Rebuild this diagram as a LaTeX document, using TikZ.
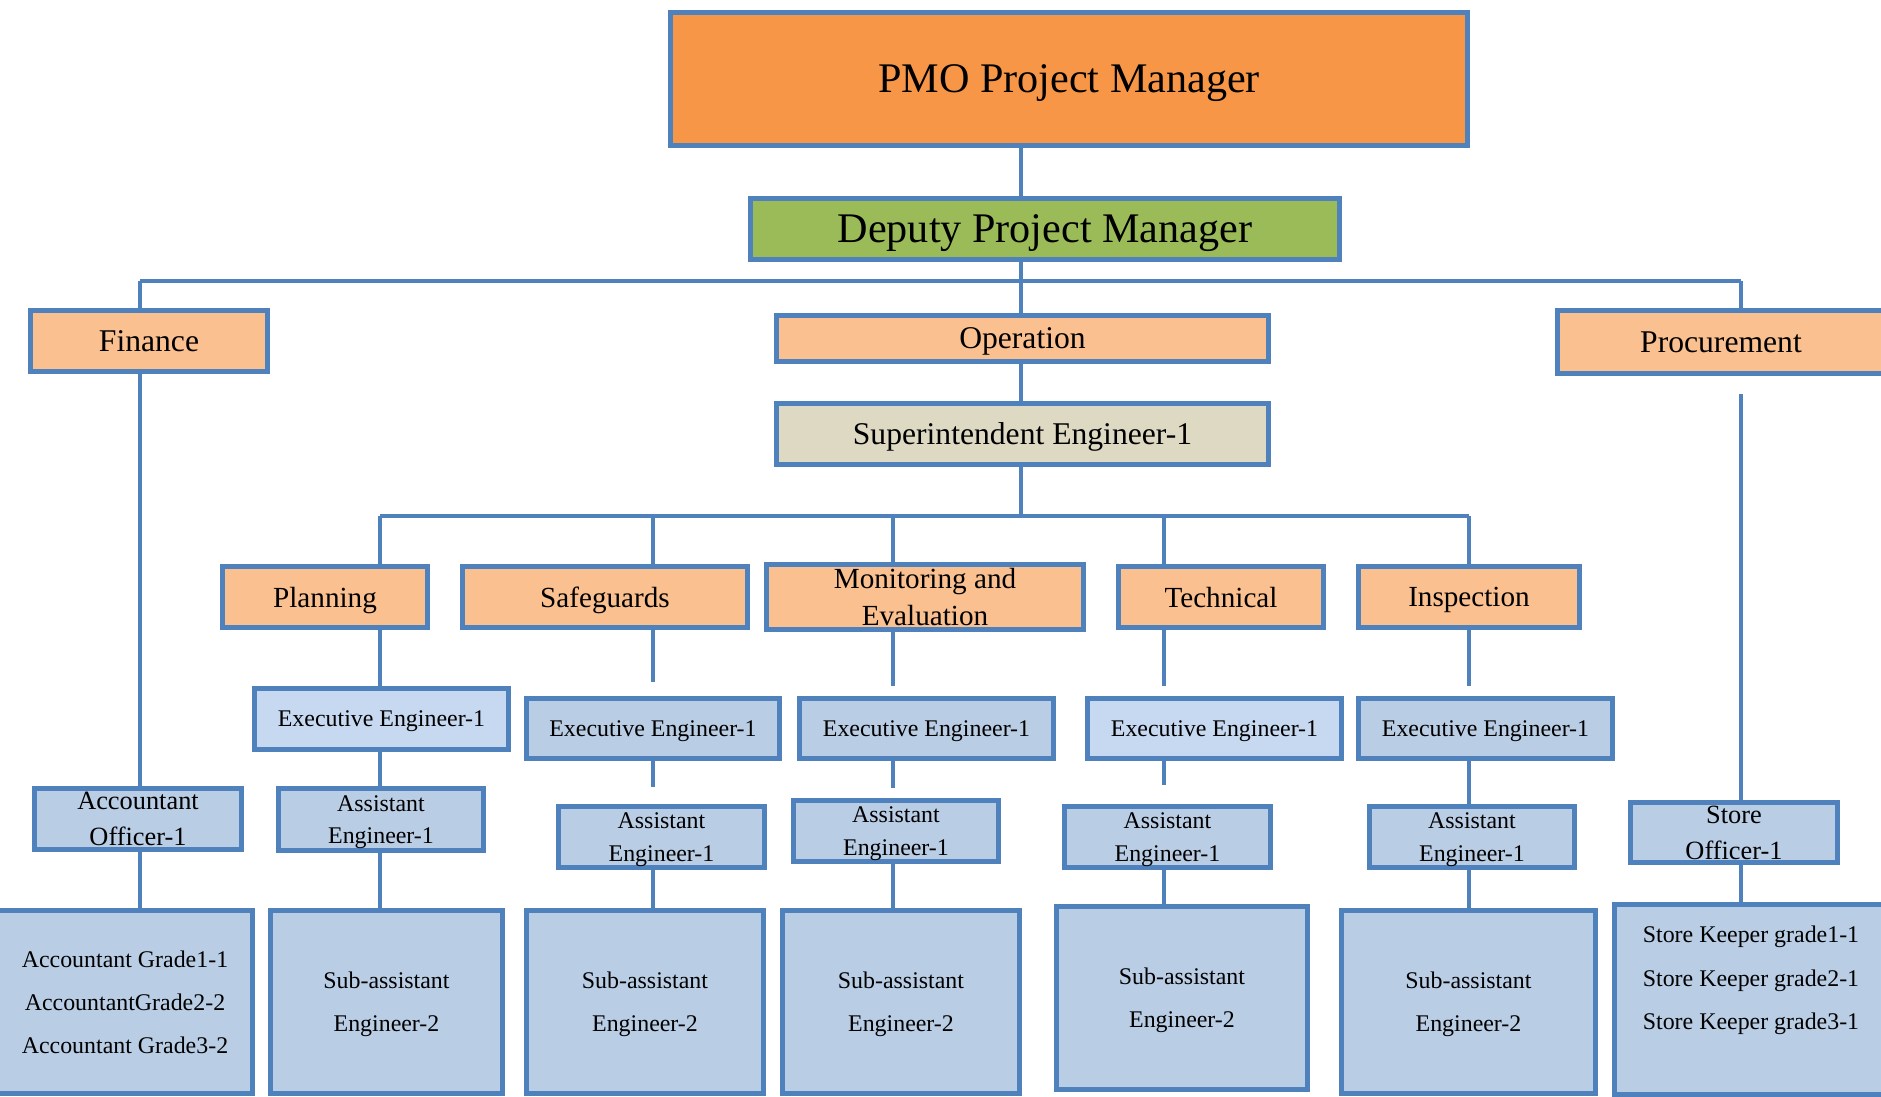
\documentclass[tikz,border=0pt]{standalone}
\usepackage{fontspec}
\setmainfont{Liberation Serif}
\definecolor{frame}{HTML}{4F81BD}
\definecolor{pmofill}{HTML}{F79646}
\definecolor{depfill}{HTML}{9BBB59}
\definecolor{deptfill}{HTML}{FAC090}
\definecolor{supfill}{HTML}{DDD9C3}
\definecolor{staff}{HTML}{B9CDE5}
\definecolor{stafflight}{HTML}{C6D9F1}
\begin{document}
\begin{tikzpicture}
[
    box/.style={draw=frame, line width=1.5pt, inner sep=1pt, align=center, text depth=0pt},
    head/.style={box, fill=pmofill, font=\fontsize{12}{14}\selectfont},
    deputy/.style={box, fill=depfill, font=\fontsize{12}{14}\selectfont},
    dept/.style={box, fill=deptfill, font=\fontsize{9}{11}\selectfont},
    unit/.style={box, fill=deptfill, font=\fontsize{8.3}{10.6}\selectfont},
    super/.style={box, fill=supfill, font=\fontsize{9}{11}\selectfont},
    exe/.style={box, fill=staff, font=\fontsize{6.8}{9.2}\selectfont},
    officer/.style={box, fill=staff, font=\fontsize{7.5}{10.2}\selectfont},
    crew/.style={box, fill=staff, font=\fontsize{6.8}{12.3}\selectfont},
    link/.style={draw=frame, line width=1pt},
    bar/.style={draw=frame, line width=1.4pt},
]
\useasboundingbox (0,0) rectangle (18.81,-10.97);

\node[head, minimum width=7.97cm, minimum height=1.33cm] (pmo) at (10.69,-0.79) {PMO Project Manager};
\node[deputy, minimum width=5.89cm, minimum height=0.61cm] (dep) at (10.45,-2.29) {Deputy Project Manager};

\node[dept, minimum width=2.37cm, minimum height=0.61cm] (fin) at (1.49,-3.41) {Finance};
\node[dept, minimum width=4.92cm, minimum height=0.46cm] (op) at (10.225,-3.385) {Operation};
\node[dept, minimum width=3.27cm, minimum height=0.63cm] (proc) at (17.21,-3.42) {Procurement};
\node[super, minimum width=4.92cm, minimum height=0.61cm] (sup) at (10.225,-4.34) {Superintendent Engineer-1};

\node[unit, minimum width=2.05cm, minimum height=0.61cm] (plan) at (3.25,-5.97) {Planning};
\node[unit, minimum width=2.85cm, minimum height=0.61cm] (safe) at (6.05,-5.97) {Safeguards};
\node[unit, minimum width=3.17cm, minimum height=0.61cm] (me) at (9.25,-5.97) {Monitoring and\\Evaluation};
\node[unit, minimum width=2.05cm, minimum height=0.61cm] (tech) at (12.21,-5.97) {Technical};
\node[unit, minimum width=2.21cm, minimum height=0.61cm] (insp) at (14.69,-5.97) {Inspection};

\node[exe, fill=stafflight, minimum width=2.54cm, minimum height=0.61cm] (pexe) at (3.815,-7.19) {Executive Engineer-1};
\node[exe, minimum width=2.53cm, minimum height=0.60cm] (sexe) at (6.53,-7.285) {Executive Engineer-1};
\node[exe, minimum width=2.54cm, minimum height=0.60cm] (mexe) at (9.265,-7.285) {Executive Engineer-1};
\node[exe, fill=stafflight, minimum width=2.54cm, minimum height=0.60cm] (texe) at (12.145,-7.285) {Executive Engineer-1};
\node[exe, minimum width=2.54cm, minimum height=0.60cm] (iexe) at (14.855,-7.285) {Executive Engineer-1};

\node[officer, minimum width=2.07cm, minimum height=0.61cm] (acc) at (1.38,-8.19) {Accountant\\Officer-1};
\node[exe, minimum width=2.05cm, minimum height=0.62cm] (passt) at (3.81,-8.195) {Assistant\\Engineer-1};
\node[exe, minimum width=2.06cm, minimum height=0.61cm] (sasst) at (6.615,-8.37) {Assistant\\Engineer-1};
\node[exe, minimum width=2.05cm, minimum height=0.61cm] (masst) at (8.96,-8.31) {Assistant\\Engineer-1};
\node[exe, minimum width=2.06cm, minimum height=0.61cm] (tasst) at (11.675,-8.37) {Assistant\\Engineer-1};
\node[exe, minimum width=2.05cm, minimum height=0.61cm] (iasst) at (14.72,-8.37) {Assistant\\Engineer-1};
\node[officer, minimum width=2.07cm, minimum height=0.60cm] (sto) at (17.34,-8.325) {Store\\Officer-1};

\node[crew, minimum width=2.55cm, minimum height=1.83cm] (grades) at (1.25,-10.02) {Accountant Grade1-1\\AccountantGrade2-2\\Accountant Grade3-2};
\node[crew, minimum width=2.32cm, minimum height=1.83cm] (psub) at (3.865,-10.02) {Sub-assistant\\Engineer-2};
\node[crew, minimum width=2.37cm, minimum height=1.83cm] (ssub) at (6.45,-10.02) {Sub-assistant\\Engineer-2};
\node[crew, minimum width=2.37cm, minimum height=1.83cm] (msub) at (9.01,-10.02) {Sub-assistant\\Engineer-2};
\node[crew, minimum width=2.51cm, minimum height=1.83cm] (tsub) at (11.82,-9.98) {Sub-assistant\\Engineer-2};
\node[crew, minimum width=2.54cm, minimum height=1.83cm] (isub) at (14.685,-10.02) {Sub-assistant\\Engineer-2};
\node[crew, minimum width=2.73cm, minimum height=1.90cm] (keep) at (17.51,-9.995) {Store Keeper grade1-1\\Store Keeper grade2-1\\Store Keeper grade3-1\\\mbox{}};

\coordinate (c0) at (10.21,-2.81);
\coordinate (fl) at (1.40,-2.81);
\coordinate (pr) at (17.41,-2.81);
\coordinate (sb) at (10.21,-5.16);
\coordinate (b1) at (3.80,-5.16);
\coordinate (b2) at (6.53,-5.16);
\coordinate (b3) at (8.93,-5.16);
\coordinate (b4) at (11.64,-5.16);
\coordinate (b5) at (14.69,-5.16);

\draw[link] (c0 |- pmo.south) -- (c0 |- dep.north);
\draw[link] (c0 |- dep.south) -- (c0 |- op.north);
\draw[bar] (fl) -- (pr);
\draw[link] (fl) -- (fl |- fin.north);
\draw[link] (pr) -- (pr |- proc.north);
\draw[link] (fl |- fin.south) -- (fl |- acc.north);
\draw[link] (fl |- acc.south) -- (fl |- grades.north);
\draw[link, shorten <=0.18cm] (pr |- proc.south) -- (pr |- sto.north);
\draw[link] (pr |- sto.south) -- (pr |- keep.north);

\draw[link] (c0 |- op.south) -- (c0 |- sup.north);
\draw[link] (c0 |- sup.south) -- (sb);
\draw[bar] (b1) -- (b5);

\draw[link] (b1) -- (b1 |- plan.north);
\draw[link] (b1 |- plan.south) -- (b1 |- pexe.north);
\draw[link] (b1 |- pexe.south) -- (b1 |- passt.north);
\draw[link] (b1 |- passt.south) -- (b1 |- psub.north);

\draw[link] (b2) -- (b2 |- safe.north);
\draw[link, shorten >=0.14cm] (b2 |- safe.south) -- (b2 |- sexe.north);
\draw[link, shorten >=0.17cm] (b2 |- sexe.south) -- (b2 |- sasst.north);
\draw[link] (b2 |- sasst.south) -- (b2 |- ssub.north);

\draw[link] (b3) -- (b3 |- me.north);
\draw[link, shorten >=0.10cm] (b3 |- me.south) -- (b3 |- mexe.north);
\draw[link, shorten >=0.10cm] (b3 |- mexe.south) -- (b3 |- masst.north);
\draw[link] (b3 |- masst.south) -- (b3 |- msub.north);

\draw[link] (b4) -- (b4 |- tech.north);
\draw[link, shorten >=0.10cm] (b4 |- tech.south) -- (b4 |- texe.north);
\draw[link, shorten >=0.19cm] (b4 |- texe.south) -- (b4 |- tasst.north);
\draw[link] (b4 |- tasst.south) -- (b4 |- tsub.north);

\draw[link] (b5) -- (b5 |- insp.north);
\draw[link, shorten >=0.10cm] (b5 |- insp.south) -- (b5 |- iexe.north);
\draw[link] (b5 |- iexe.south) -- (b5 |- iasst.north);
\draw[link] (b5 |- iasst.south) -- (b5 |- isub.north);
\end{tikzpicture}
\end{document}
